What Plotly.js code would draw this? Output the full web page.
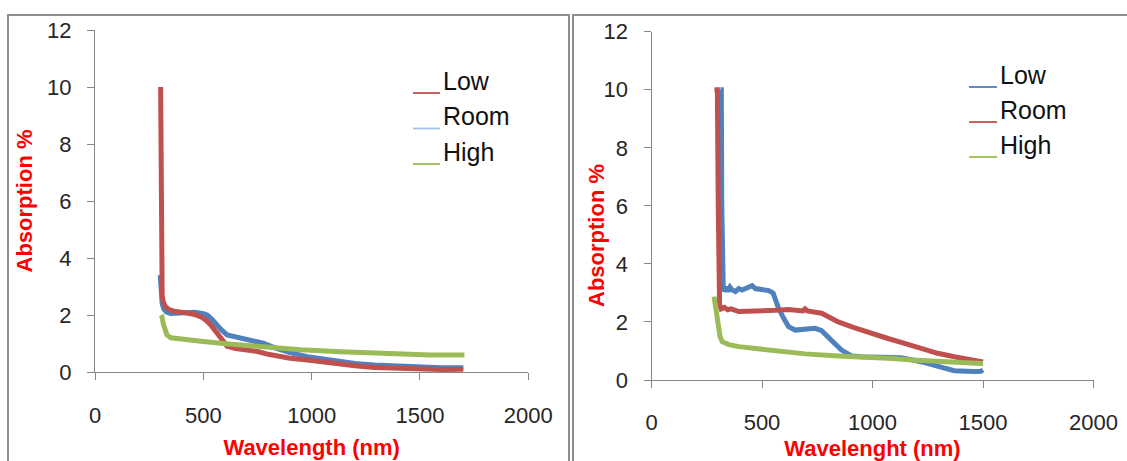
<!DOCTYPE html>
<html>
<head>
<meta charset="utf-8">
<script src="https://cdn.plot.ly/plotly-3.0.1.min.js"></script>
<style>html,body{margin:0;padding:0;background:#fff;}#chart{width:1127px;height:461px;}</style>
</head>
<body>
<div id="chart"></div>
<script>
// ---------- Data (left chart) ----------
const lowL_x  = [303,305,307,310,315,325,340,370,400,430,460,490,515,540,563,585,610,650,700,750,800,850,900,980,1100,1200,1290,1400,1520,1600,1700];
const lowL_y  = [10,7,3.5,2.7,2.45,2.3,2.2,2.12,2.1,2.07,2.02,1.93,1.8,1.6,1.37,1.1,0.9,0.82,0.77,0.72,0.62,0.54,0.48,0.42,0.3,0.22,0.16,0.12,0.1,0.09,0.1];
const roomL_x = [301,303,306,310,318,330,350,380,420,460,500,517,540,560,580,610,660,720,780,830,900,980,1100,1200,1289,1400,1520,1600,1700];
const roomL_y = [3.4,3.0,2.6,2.4,2.2,2.1,2.05,2.07,2.1,2.1,2.05,2.0,1.85,1.65,1.5,1.3,1.2,1.1,1.0,0.85,0.68,0.54,0.4,0.3,0.25,0.2,0.17,0.15,0.15];
const highL_x = [305,309,315,322,332,350,394,450,500,593,700,826,950,1134,1300,1443,1550,1705];
const highL_y = [2.0,1.95,1.7,1.45,1.3,1.2,1.15,1.1,1.07,1.0,0.93,0.85,0.78,0.71,0.66,0.6,0.6,0.6];

// ---------- Data (right chart) ----------
const lowR_x  = [312,316,318,320,325,335,345,355,365,380,395,410,425,440,455,470,490,510,530,550,575,600,620,650,680,700,740,770,800,830,860,905,950,1000,1070,1130,1219,1300,1370,1459,1490,1500];
const lowR_y  = [10,10,6,3.3,3.05,3.2,3.05,3.2,3.1,3.05,3.15,3.1,3.15,3.2,3.25,3.15,3.12,3.1,3.08,3.0,2.47,2.1,1.84,1.72,1.75,1.78,1.78,1.7,1.5,1.25,1.03,0.83,0.8,0.8,0.8,0.77,0.63,0.45,0.32,0.29,0.3,0.35];
const roomR_x = [285,298,302,305,308,315,330,345,360,395,420,500,560,620,660,685,695,705,770,845,920,995,1070,1145,1220,1295,1370,1444,1490,1500];
const roomR_y = [10,10,6,3,2.6,2.45,2.5,2.42,2.45,2.36,2.36,2.38,2.4,2.43,2.4,2.38,2.45,2.38,2.3,2.0,1.8,1.6,1.43,1.26,1.09,0.92,0.8,0.69,0.63,0.62];
const highR_x = [283,290,298,310,320,350,395,450,545,620,695,845,950,1070,1200,1295,1400,1490,1500];
const highR_y = [2.87,2.5,1.84,1.5,1.32,1.22,1.15,1.1,1.03,0.95,0.9,0.83,0.8,0.75,0.68,0.63,0.6,0.57,0.57];

const legendL = ['Low','Room','High'];
const legendR = ['Low','Room','High'];
const tickVals = [0,500,1000,1500,2000];

// ---------- Styling ----------
const BLUE='#4F81BD', RED='#C0504D', GREEN='#9BBB59', PALEBLUE='#9DC3E6';
const W=1127, H=461;
const fx = p => p/W;
const fy = p => (H-p)/H;
const LW = 5;

const traces = [
  {x:roomL_x, y:roomL_y, xaxis:'x', yaxis:'y', mode:'lines', line:{color:BLUE, width:LW}, name:'Room'},
  {x:lowL_x,  y:lowL_y,  xaxis:'x', yaxis:'y', mode:'lines', line:{color:RED, width:LW}, name:'Low'},
  {x:highL_x, y:highL_y, xaxis:'x', yaxis:'y', mode:'lines', line:{color:GREEN, width:LW}, name:'High'},
  {x:lowR_x,  y:lowR_y,  xaxis:'x2', yaxis:'y2', mode:'lines', line:{color:BLUE, width:LW}, name:'Low'},
  {x:roomR_x, y:roomR_y, xaxis:'x2', yaxis:'y2', mode:'lines', line:{color:RED, width:LW}, name:'Room'},
  {x:highR_x, y:highR_y, xaxis:'x2', yaxis:'y2', mode:'lines', line:{color:GREEN, width:LW}, name:'High'}
];

const AX = '#868686';
const FONT = 'Liberation Sans, Arial, sans-serif';
const tickFont = {family:FONT, size:22, color:'#262626'};
const titleFont = {family:FONT, size:22, color:'#FF0000', weight:'bold'};

function xax(domain, anchor, title, lblStandoff){
  return {domain:domain, anchor:anchor, range:[0,2000], tickvals:tickVals, ticktext:tickVals.map(String),
    showline:true, linecolor:AX, linewidth:1, ticks:'outside', ticklen:7, tickcolor:AX,
    showgrid:false, zeroline:false, tickfont:tickFont, ticklabelstandoff:lblStandoff,
    title:{text:title, font:titleFont, standoff:12}, fixedrange:true};
}
function yax(domain, anchor, title){
  return {domain:domain, anchor:anchor, range:[0,12], dtick:2, tick0:0,
    showline:true, linecolor:AX, linewidth:1, ticks:'outside', ticklen:7, tickcolor:AX,
    showgrid:false, zeroline:false, tickfont:tickFont, ticklabelstandoff:11,
    title:{text:title, font:titleFont, standoff:8}, fixedrange:true};
}

const shapes = [];
const annotations = [];
const FR = '#8E8E8E';
// frames
shapes.push({type:'path', xref:'paper', yref:'paper', path:`M ${fx(8)} ${fy(470)} L ${fx(8)} ${fy(15)} L ${fx(569)} ${fy(15)} L ${fx(569)} ${fy(470)}`, line:{color:FR, width:2}});
shapes.push({type:'path', xref:'paper', yref:'paper', path:`M ${fx(573)} ${fy(470)} L ${fx(573)} ${fy(15)} L ${fx(1130)} ${fy(15)}`, line:{color:FR, width:2}});

// right-hand y title (sits lower than the axis centre in the reference)
annotations.push({xref:'paper', yref:'paper', x:fx(596), y:fy(236), xanchor:'center', yanchor:'middle',
  text:'<b>Absorption %</b>', textangle:-90, showarrow:false, font:{family:FONT, size:22, color:'#FF0000'}});

// legends
const legFont = {family:FONT, size:25, color:'#111'};
const legL = {colors:[RED, PALEBLUE, GREEN], ys:[93,128.5,164], x0:413, x1:440};
const legR = {colors:[BLUE, RED, GREEN], ys:[87,122,157], x0:969, x1:997};
function addLegend(labels, cfg){
  labels.forEach((t,i)=>{
    shapes.push({type:'line', xref:'paper', yref:'paper', x0:fx(cfg.x0), x1:fx(cfg.x1), y0:fy(cfg.ys[i]), y1:fy(cfg.ys[i]), line:{color:cfg.colors[i], width:1.8}});
    annotations.push({xref:'paper', yref:'paper', x:fx(cfg.x1+1), y:fy(cfg.ys[i]-12), xanchor:'left', yanchor:'middle', text:t, showarrow:false, font:legFont});
  });
}
addLegend(legendL, legL);
addLegend(legendR, legR);

const layout = {
  width:W, height:H, margin:{l:0,r:0,t:0,b:0}, paper_bgcolor:'#fff', plot_bgcolor:'rgba(0,0,0,0)',
  showlegend:false,
  xaxis: xax([fx(95), fx(528.3)], 'y', 'Wavelength (nm)', 17),
  yaxis: yax([fy(372), fy(30)], 'x', 'Absorption %'),
  xaxis2: xax([fx(651.5), fx(1093.5)], 'y2', 'Wavelenght (nm)', 16),
  yaxis2: yax([fy(380), fy(31.7)], 'x2', ''),
  shapes: shapes, annotations: annotations
};

Plotly.newPlot('chart', traces, layout, {staticPlot:true, displayModeBar:false});
</script>
</body>
</html>
